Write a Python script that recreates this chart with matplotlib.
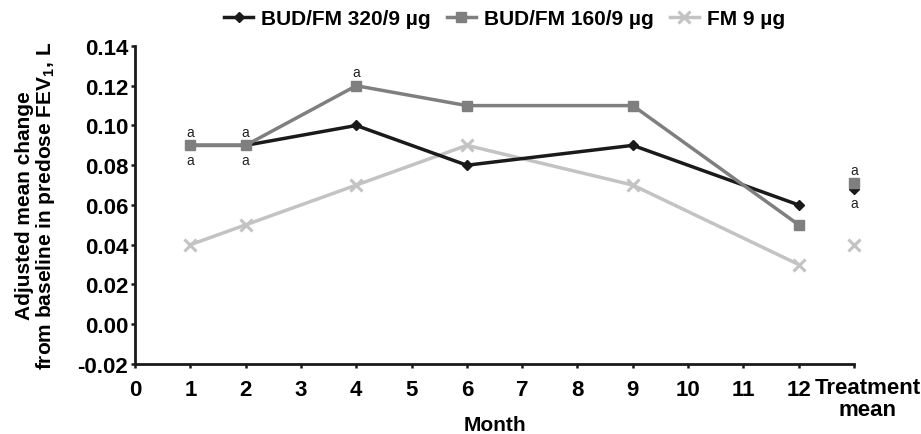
import matplotlib
matplotlib.use("Agg")
import matplotlib.pyplot as plt

plt.rcParams['font.family'] = ['Liberation Sans', 'DejaVu Sans']
plt.rcParams['mathtext.fontset'] = 'custom'
plt.rcParams['mathtext.rm'] = 'Liberation Sans'
plt.rcParams['mathtext.bf'] = 'Liberation Sans:bold'

# data
months = [1, 2, 4, 6, 9, 12]
bud320 = [0.09, 0.09, 0.10, 0.08, 0.09, 0.06]
bud160 = [0.09, 0.09, 0.12, 0.11, 0.11, 0.05]
fm9 = [0.04, 0.05, 0.07, 0.09, 0.07, 0.03]
treat_x = 13
treat_bud320 = 0.068
treat_bud160 = 0.071
treat_fm9 = 0.04
xtick_labels = [str(i) for i in range(13)]
treat_label = "Treatment\nmean"
# months where the "a" significance mark is shown
sig_160 = [1, 2, 4, 13]
sig_320 = [1, 2, 13]

FS = 15
TFS = 16

fig = plt.figure(figsize=(9.21, 4.35), dpi=100)
ax = fig.add_axes([0.1466, 0.161, 0.7807, 0.731])

c320, c160, cfm = '#1a1a1a', '#7f7f7f', '#c3c3c3'

ax.plot(months, fm9, color=cfm, lw=2.5, marker='x', ms=9, mew=2.2, label='FM 9 µg', zorder=2)
ax.plot(months, bud320, color=c320, lw=2.5, marker='D', ms=5.5, label='BUD/FM 320/9 µg', zorder=3)
ax.plot(months, bud160, color=c160, lw=2.5, marker='s', ms=7, label='BUD/FM 160/9 µg', zorder=4)
ax.plot([treat_x], [treat_fm9], color=cfm, marker='x', ms=9, mew=2.2, ls='none', clip_on=False)
ax.plot([treat_x], [treat_bud320], color=c320, marker='D', ms=5.5, ls='none', clip_on=False, zorder=3)
ax.plot([treat_x], [treat_bud160], color=c160, marker='s', ms=7, ls='none', clip_on=False, zorder=4)

d160 = dict(zip(months + [treat_x], bud160 + [treat_bud160]))
d320 = dict(zip(months + [treat_x], bud320 + [treat_bud320]))
for x in sig_160:
    ax.text(x, d160[x] + 0.0068, 'a', ha='center', va='center', fontsize=10, color='#222222')
for x in sig_320:
    ax.text(x, d320[x] - 0.0072, 'a', ha='center', va='center', fontsize=10, color='#222222')

ax.set_xlim(0, 13)
ax.set_ylim(-0.02, 0.14)
ax.set_xticks(range(14))
ax.set_xticklabels(xtick_labels + [''], fontsize=TFS, fontweight='bold')
ax.set_yticks([-0.02 + 0.02 * i for i in range(9)])
ax.set_yticklabels(['%.2f' % (-0.02 + 0.02 * i) for i in range(9)], fontsize=TFS, fontweight='bold')
ax.tick_params(direction='out', length=3, width=1.8, color='#1a1a1a')
ax.tick_params(axis='x', pad=7.5)
ax.tick_params(axis='y', pad=2)
# treatment mean label sits a bit right of its tick
ax.text(13.25, -0.0265, treat_label, ha='center', va='top', fontsize=TFS,
        fontweight='bold', linespacing=1.05)
for s in ['top', 'right']:
    ax.spines[s].set_visible(False)
for s in ['left', 'bottom']:
    ax.spines[s].set_linewidth(2)
    ax.spines[s].set_color('#1a1a1a')

ax.set_xlabel('Month', fontsize=FS, fontweight='bold', va='center')
ax.xaxis.set_label_coords(0.5, -0.189)
ax.set_ylabel('Adjusted mean change\nfrom baseline in predose FEV$_\\mathbf{1}$, L',
              fontsize=FS, fontweight='bold', linespacing=1.0, va='center')
ax.yaxis.set_label_coords(-0.138, 0.5)

h, l = ax.get_legend_handles_labels()
order = [1, 2, 0]
ax.legend([h[i] for i in order], [l[i] for i in order], loc='center',
          bbox_to_anchor=(0.514, 1.085), ncol=3, frameon=False, handlelength=1.4,
          handletextpad=0.4, columnspacing=0.75, borderaxespad=0,
          prop={'weight': 'bold', 'size': FS})

fig.savefig('out.png', dpi=100)
